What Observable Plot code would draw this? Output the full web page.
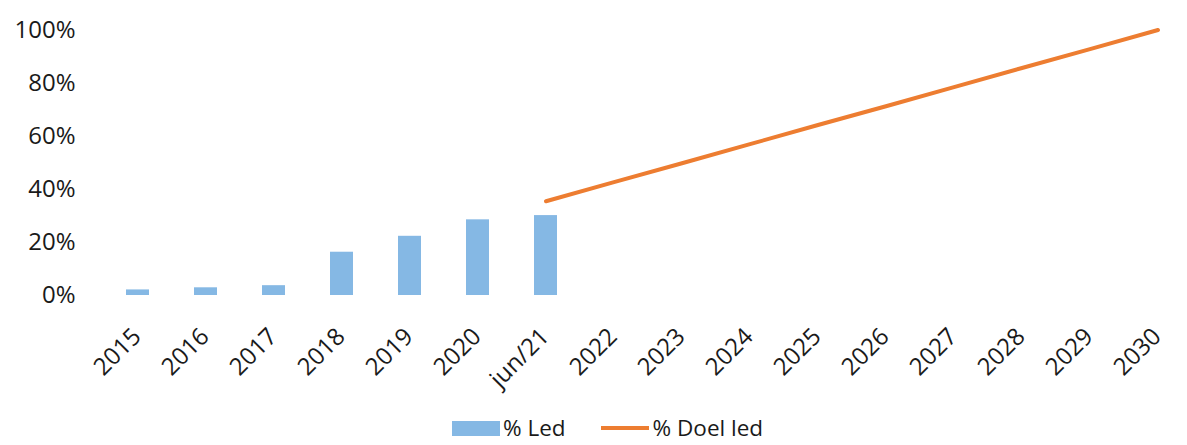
<!DOCTYPE html>
<html>
<head>
<meta charset="utf-8">
<script src="https://cdn.jsdelivr.net/npm/d3@7"></script>
<script src="https://cdn.jsdelivr.net/npm/@observablehq/plot@0.6"></script>
<style>
  html, body { margin: 0; padding: 0; background: #fff; }
  body { width: 1187px; height: 445px; position: relative; overflow: hidden; font-family: "Open Sans", sans-serif; }
  #chart svg { display: block; }
  .legend { position: absolute; top: 417px; left: 452px; display: flex; align-items: center; font-size: 22.5px; line-height: 22px; color: #1a1a1a; font-family: "Open Sans", sans-serif; }
  .legend .item { display: flex; align-items: center; }
  .sw-bar { width: 48px; height: 15px; background: #85b8e4; margin-right: 3px; }
  .sw-line { width: 48px; height: 4px; background: #ed7d31; margin-right: 4px; margin-left: 35px; }
</style>
</head>
<body>
<div id="chart"></div>
<div class="legend">
  <div class="item"><div class="sw-bar"></div><span>% Led</span></div>
  <div class="item"><div class="sw-line"></div><span>% Doel led</span></div>
</div>
<script>
const categories = ["2015","2016","2017","2018","2019","2020","jun/21","2022","2023","2024","2025","2026","2027","2028","2029","2030"];
const ledCategories = ["2015","2016","2017","2018","2019","2020","jun/21"];
const ledValues = [2.1, 2.9, 3.7, 16.3, 22.3, 28.5, 30.1];
const doelCategories = ["jun/21","2022","2023","2024","2025","2026","2027","2028","2029","2030"];
const doelValues = [35.5, 42.7, 49.8, 57.0, 64.2, 71.3, 78.5, 85.7, 92.8, 100];
const yTicks = [0, 20, 40, 60, 80, 100];

const ledData = ledCategories.map((c, i) => ({cat: c, value: ledValues[i]}));
const doelData = doelCategories.map((c, i) => ({cat: c, value: doelValues[i]}));

const chart = Plot.plot({
  width: 1187,
  height: 410,
  marginTop: 29.5,
  marginBottom: 115,
  marginLeft: 104,
  marginRight: 0,
  style: {fontFamily: "Open Sans, sans-serif", fontSize: "23px", color: "#1a1a1a", background: "#fff", overflow: "hidden"},
  x: {domain: categories, range: [104, 1192], paddingInner: 0.66, paddingOuter: 0.33, align: 0.5, label: null},
  y: {domain: [0, 100], label: null},
  marks: [
    Plot.ruleY(yTicks, {x1: 104, x2: 1192, stroke: "#d9d9d9", strokeWidth: 1.6}),
    Plot.barY(ledData, {x: "cat", y: "value", fill: "#85b8e4"}),
    Plot.line(doelData, {x: "cat", y: "value", stroke: "#ed7d31", strokeWidth: 4, strokeLinecap: "round"}),
    Plot.axisY({ticks: yTicks, tickFormat: d => d + "%", tickSize: 0, tickPadding: 29, fontSize: 24, fill: "#1a1a1a"}),
    Plot.axisX({tickSize: 0, tickRotate: -45, tickPadding: 37, dx: -1, fontSize: 24, fill: "#1a1a1a"})
  ]
});
document.getElementById("chart").appendChild(chart);
</script>
</body>
</html>
